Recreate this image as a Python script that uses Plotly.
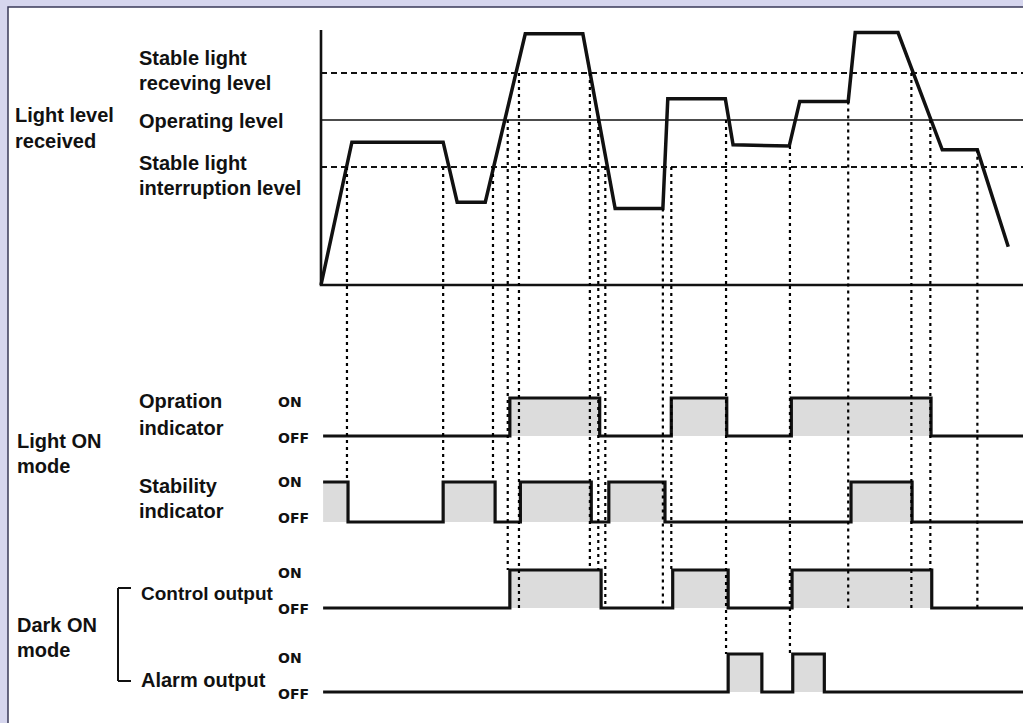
import plotly.graph_objects as go

W, H = 1023, 723

# ------------------------------------------------------------------ data
# Received light level (time units, % of full scale)
light_t = [0.0, 4.4, 17.4, 19.4, 23.4, 29.1, 37.3, 41.9, 48.7, 49.4,
           57.6, 58.7, 66.7, 68.2, 75.1, 76.1, 82.2, 88.5, 93.5, 97.9]
light_level = [0, 56, 56, 32.5, 32.5, 98.5, 98.5, 30, 30, 73,
               73, 55, 54.5, 72, 72, 99, 99, 53, 53, 15]

stable_receiving_level = 83.1
operating_level = 64.7
stable_interruption_level = 46.3

# Output signals: ON intervals (start, end) in time units
operation_on_start = [26.9, 49.9, 67.0]
operation_on_end = [39.7, 57.8, 86.9]
stability_on_start = [0.3, 17.4, 28.4, 41.0, 75.5]
stability_on_end = [3.85, 24.8, 38.5, 49.0, 84.2]
control_on_start = [26.9, 50.1, 67.1]
control_on_end = [39.9, 58.0, 87.0]
alarm_on_start = [58.0, 67.2]
alarm_on_end = [62.8, 71.7]

# Vertical dotted reference lines: time, start light level, end row/state
ref_t = [3.7, 17.4, 24.5, 26.6, 28.2, 38.3, 39.5, 40.5,
         48.7, 49.9, 57.7, 66.8, 75.1, 84.1, 86.8, 93.5]
ref_from_level = [46.3, 46.3, 46.3, 64.7, 83.1, 83.1, 64.7, 46.3,
                  30, 46.3, 64.7, 54.5, 72, 83.1, 64.7, 53]
ref_to_row = ["stability", "stability", "stability", "control", "control",
              "control", "control", "control", "control", "control",
              "alarm", "alarm", "control", "control", "control", "control"]
ref_to_state = [1, 1, 1, 1, 0, 1, 1, 0, 0, 1, 1, 1, 0, 0, 1, 0]

# ------------------------------------------------------------------ layout geometry
# pixel anchors (value_a, px_a, value_b, px_b) for each row's vertical scale
ROWS = {
    "light": (0, 285, 100, 30),
    "operation": (0, 436, 1, 398),
    "stability": (0, 522, 1, 482),
    "control": (0, 608, 1, 570),
    "alarm": (0, 692, 1, 654),
}
AXIS_NAME = {"light": "y", "operation": "y2", "stability": "y3",
             "control": "y4", "alarm": "y5"}
T_ANCHOR = (0, 321, 100, 1023)


def full_range(anchor, size, flip):
    va, pa, vb, pb = anchor
    k = (vb - va) / (pb - pa)
    lo = va + (0 - pa) * k
    hi = va + (size - pa) * k
    return [hi, lo] if flip else [lo, hi]


def to_paper(row, v):
    va, pa, vb, pb = ROWS[row]
    px = pa + (v - va) * (pb - pa) / (vb - va)
    return 1 - px / H


def step_path(starts, ends, t0=0.3, t1=100):
    xs, ys = [], []
    if starts[0] <= t0:
        xs += [t0]
        ys += [1]
    else:
        xs += [t0]
        ys += [0]
    for a, b in zip(starts, ends):
        if a > t0:
            xs += [a, a]
            ys += [0, 1]
        xs += [b, b]
        ys += [1, 0]
    xs.append(t1)
    ys.append(0)
    return xs, ys


fig = go.Figure()

INK = "#111111"
FILL = "#dcdcdc"

# level lines
fig.add_trace(go.Scatter(x=[0, 100], y=[operating_level] * 2, mode="lines",
                         line=dict(color=INK, width=1.6), yaxis="y", showlegend=False))
for lv in (stable_receiving_level, stable_interruption_level):
    fig.add_trace(go.Scatter(x=[0, 100], y=[lv] * 2, mode="lines",
                             line=dict(color=INK, width=2, dash="6px,4px"),
                             yaxis="y", showlegend=False))
# light axis
fig.add_trace(go.Scatter(x=[0, 0, 100], y=[100, 0, 0], mode="lines",
                         line=dict(color=INK, width=2.6), yaxis="y", showlegend=False))
# light waveform
fig.add_trace(go.Scatter(x=light_t, y=light_level, mode="lines",
                         line=dict(color=INK, width=3.5), yaxis="y", showlegend=False))

for row, st, en in [("operation", operation_on_start, operation_on_end),
                    ("stability", stability_on_start, stability_on_end),
                    ("control", control_on_start, control_on_end),
                    ("alarm", alarm_on_start, alarm_on_end)]:
    xs, ys = step_path(st, en)
    fig.add_trace(go.Scatter(x=xs, y=ys, mode="lines", fill="tozeroy",
                             fillcolor=FILL, line=dict(color=INK, width=3.2),
                             yaxis=AXIS_NAME[row], showlegend=False))

shapes = []
# background panel
shapes.append(dict(type="rect", xref="paper", yref="paper", x0=8 / W, x1=1.02,
                   y0=-0.02, y1=1 - 7 / H, fillcolor="white",
                   line=dict(color="#3a3a58", width=1.5), layer="below"))
# dotted reference lines
for t, lv, row, stt in zip(ref_t, ref_from_level, ref_to_row, ref_to_state):
    shapes.append(dict(type="line", xref="x", yref="paper", x0=t, x1=t,
                       y0=to_paper("light", lv), y1=to_paper(row, stt),
                       line=dict(color="#000000", width=2.2, dash="3px,4px"),
                       layer="above"))
# bracket for Dark ON mode
bx, btop, bbot, btick = 118, 588, 681, 131
for (x0, y0, x1, y1) in [(bx, btop, bx, bbot), (bx, btop, btick, btop), (bx, bbot, btick, bbot)]:
    shapes.append(dict(type="line", xref="paper", yref="paper",
                       x0=x0 / W, x1=x1 / W, y0=1 - y0 / H, y1=1 - y1 / H,
                       line=dict(color=INK, width=2)))

LABEL_FONT = dict(family="Liberation Sans, Arial, sans-serif", size=20, color=INK)
NARROW_FONT = dict(family="Liberation Sans, Arial, sans-serif", size=19, color=INK)
SMALL_FONT = dict(family="DejaVu Sans, sans-serif", size=14, color=INK)

labels = [
    ("<b>Light level</b>", 13, 115, LABEL_FONT), ("<b>received</b>", 13, 141, LABEL_FONT),
    ("<b>Stable light</b>", 137, 58, LABEL_FONT), ("<b>receving level</b>", 137, 83, LABEL_FONT),
    ("<b>Operating level</b>", 137, 121, LABEL_FONT),
    ("<b>Stable light</b>", 137, 163, LABEL_FONT),
    ("<b>interruption level</b>", 137, 188, LABEL_FONT),
    ("<b>Opration</b>", 137, 401, LABEL_FONT), ("<b>indicator</b>", 137, 428, LABEL_FONT),
    ("<b>Light ON</b>", 15, 441, LABEL_FONT), ("<b>mode</b>", 15, 466, LABEL_FONT),
    ("<b>Stability</b>", 137, 486, LABEL_FONT), ("<b>indicator</b>", 137, 511, LABEL_FONT),
    ("<b>Control output</b>", 139, 593, NARROW_FONT),
    ("<b>Dark ON</b>", 15, 625, LABEL_FONT), ("<b>mode</b>", 15, 650, LABEL_FONT),
    ("<b>Alarm output</b>", 139, 680, LABEL_FONT),
]
small = [("ON", 402), ("OFF", 438), ("ON", 482), ("OFF", 518),
         ("ON", 573), ("OFF", 609), ("ON", 658), ("OFF", 694)]

annotations = []
for txt, x, y, fnt in labels:
    annotations.append(dict(text=txt, x=x / W, y=1 - y / H, xref="paper", yref="paper",
                            xanchor="left", yanchor="middle", showarrow=False,
                            font=fnt))
for txt, y in small:
    annotations.append(dict(text="<b>" + txt + "</b>", x=276 / W, y=1 - y / H,
                            xref="paper", yref="paper", xanchor="left",
                            yanchor="middle", showarrow=False, font=SMALL_FONT))

layout = dict(
    width=W, height=H, margin=dict(l=0, r=0, t=0, b=0),
    paper_bgcolor="#d6d6ee", plot_bgcolor="rgba(0,0,0,0)",
    xaxis=dict(domain=[0, 1], range=full_range(T_ANCHOR, W, False), visible=False,
               fixedrange=True),
    shapes=shapes, annotations=annotations,
)
for row, ax in AXIS_NAME.items():
    key = "yaxis" if ax == "y" else "yaxis" + ax[1:]
    cfg = dict(domain=[0, 1], range=full_range(ROWS[row], H, True), visible=False,
               fixedrange=True)
    if ax != "y":
        cfg["overlaying"] = "y"
    layout[key] = cfg
fig.update_layout(**layout)

fig.write_html("out.html", config={"displayModeBar": False},
               post_script="document.body.style.margin='0';document.body.style.overflow='hidden';")
